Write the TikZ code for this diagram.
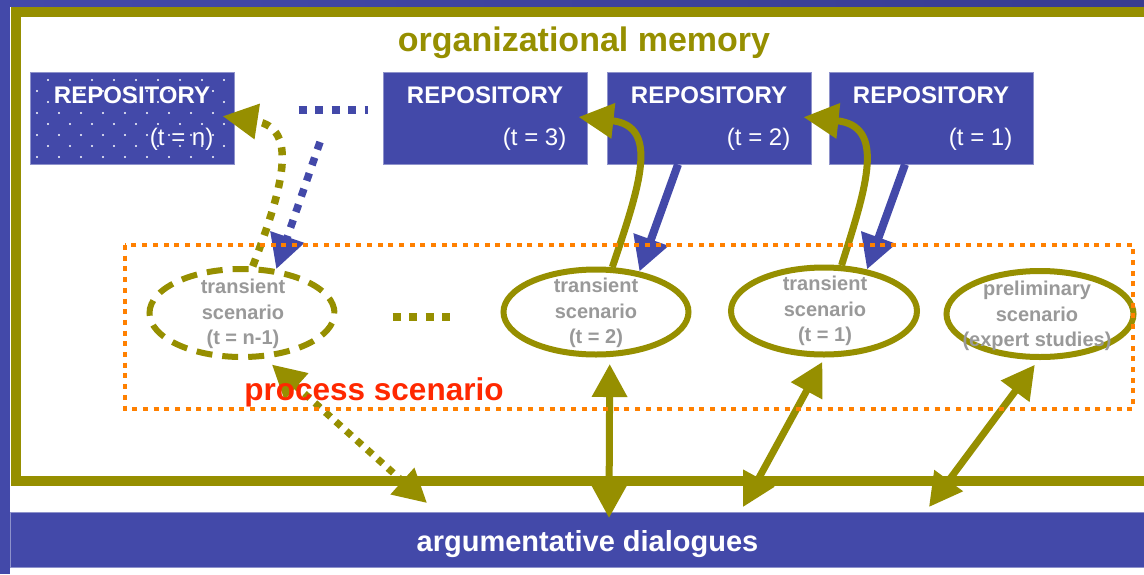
\documentclass[tikz,border=0pt]{standalone}
\usepackage{fontspec}
\setmainfont{Liberation Sans}
\usetikzlibrary{arrows.meta,shapes.geometric}
\definecolor{repoblue}{RGB}{67,73,169}
\definecolor{deepblue}{RGB}{56,60,145}
\definecolor{memolive}{RGB}{150,143,0}
\definecolor{scenorange}{RGB}{255,128,0}
\definecolor{procred}{RGB}{255,40,0}
\definecolor{scengrey}{RGB}{153,153,153}

\begin{document}
\begin{tikzpicture}[x=1pt, y=-1pt,
    repo/.style={rectangle, fill=repoblue, draw=repoblue!60!white, line width=1pt,
        minimum width=204pt, minimum height=92pt, inner sep=0pt},
    repotitle/.style={anchor=base, text=white, inner sep=0pt,
        font=\fontsize{24}{28}\selectfont\bfseries},
    repotime/.style={anchor=base east, text=white, inner sep=0pt,
        font=\fontsize{24}{28}\selectfont},
    scen/.style={ellipse, draw=memolive, line width=6pt, inner sep=0pt},
    scentext/.style={align=center, text=scengrey, inner sep=0pt,
        font=\fontsize{20}{25.5}\selectfont\bfseries},
    bluearr/.style={draw=repoblue, line width=8pt, -{Triangle[length=34pt,width=35pt]}},
    feed/.style={draw=memolive, line width=7pt, -{Triangle[length=35pt,width=34pt]}},
    twoway/.style={draw=memolive, line width=7pt,
        {Triangle[length=33pt,width=34pt]}-{Triangle[length=33pt,width=34pt]}},
    squaredots/.style={line width=7.5pt, dash pattern=on 8pt off 8.5pt},
    finedots/.style={line width=7pt, dash pattern=on 7pt off 7pt},
    dlgbar/.style={rectangle, fill=repoblue, draw=repoblue!60!white, line width=1pt,
        minimum width=1154pt, minimum height=55pt, inner sep=0pt}
]
    \path[use as bounding box] (0,0) rectangle (1144,574);
    \fill[repoblue] (0,0) rectangle (1144,574);
    \fill[left color=repoblue, right color=deepblue] (0,0) rectangle (1144,7);
    \fill[white] (10,7) rectangle (1144,574);
    \draw[memolive, line width=10pt] (1150,12) -| (16,481) -- (1150,481);

    \node[anchor=base, text=memolive, font=\fontsize{34}{40}\selectfont\bfseries]
        (memtitle) at (584,51) {organizational memory};

    \node[dlgbar] (dlg) at (587,539.5) {};
    \node[anchor=base, text=white, font=\fontsize{29}{33}\selectfont\bfseries]
        (dlgtext) at (587.5,551) {argumentative dialogues};

    \node[repo] (rn) at (132,118) {};
    \foreach \row in {0,...,7}
        \foreach \col in {0,...,8}
            \fill[white] ({37+11*mod(\row+1,2)+22*\col}, {80+11*\row}) circle (1.1pt);
    \node[repo] (r3) at (485,118) {};
    \node[repo] (r2) at (709,118) {};
    \node[repo] (r1) at (931,118) {};
    \foreach \r/\t in {rn/n, r3/3, r2/2, r1/1} {
        \node[repotitle] (\r-title) at ([yshift=-32pt]\r.north) {REPOSITORY};
        \node[repotime] (\r-time) at ([xshift=-21pt,yshift=-74pt]\r.north east) {(t = \t)};
    }

    \node[scen, dash pattern=on 16pt off 10pt, minimum width=185pt, minimum height=88pt]
        (sn) at (242,313) {};
    \node[scen, minimum width=185pt, minimum height=85pt] (s2) at (596,312) {};
    \node[scen, minimum width=186pt, minimum height=87pt] (s1) at (824,311) {};
    \node[scen, minimum width=187pt, minimum height=86pt] (sp) at (1040,314) {};
    \node[scentext] (sn-text) at (243,314) {transient\\scenario\\(t = n-1)};
    \node[scentext] (s2-text) at (596,313) {transient\\scenario\\(t = 2)};
    \node[scentext] (s1-text) at (825,311) {transient\\scenario\\(t = 1)};
    \node[scentext] (sp-text) at (1037,316) {preliminary\\scenario\\(expert studies)};

    \draw[repoblue, squaredots, shorten <=64pt, shorten >=15pt]
        ([yshift=8pt]rn.east) -- ([yshift=8pt]r3.west);
    \draw[memolive, squaredots, shorten <=55pt, shorten >=43pt]
        ([yshift=-4pt]sn.east) -- ([yshift=-5pt]s2.west);

    \draw[bluearr] ([xshift=-31pt]r2.south) -- (s2.43);
    \draw[bluearr] ([xshift=-26pt]r1.south) -- (s1.44);
    \coordinate (bluestart) at (320,142);
    \draw[repoblue, squaredots, -{Triangle[length=34pt,width=34pt]}] (bluestart) -- (sn.52);

    \draw[feed, shorten >=-9pt] (s2.70) .. controls (640,185) and (660,126) .. (r3.east);
    \draw[feed, shorten >=-8pt] (s1.69) .. controls (867,185) and (886,126) .. (r2.east);
    \draw[memolive, squaredots, -{Triangle[length=35pt,width=34pt]}, shorten >=-12pt]
        (sn.77) .. controls (282,190) and (300,128) .. (rn.east);

    \coordinate (dn) at (427,503);
    \coordinate (d2) at (609,518);
    \coordinate (d1) at (743,507);
    \coordinate (dp) at (929,507);
    \draw[twoway, finedots, shorten >=9pt] (dn) -- (sn.-63);
    \draw[twoway, shorten >=7pt] (d2) -- (s2.-73);
    \draw[twoway, shorten >=5pt] (d1) -- (s1.-89);
    \draw[twoway, shorten >=6pt] (dp) -- (sp.-92);

    \draw[scenorange, line width=4.5pt, dash pattern=on 5pt off 5.7pt] (125,245) rectangle (1133,409);
    \node[anchor=base, text=procred, font=\fontsize{31.5}{36}\selectfont\bfseries]
        (proctitle) at (374,400) {process scenario};
\end{tikzpicture}
\end{document}
